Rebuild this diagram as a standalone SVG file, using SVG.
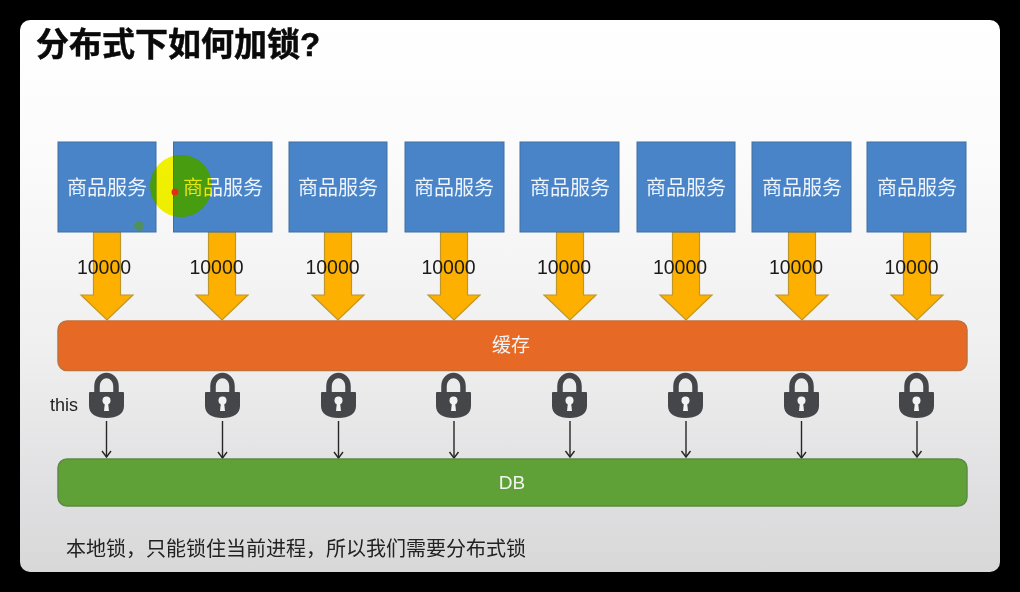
<svg xmlns="http://www.w3.org/2000/svg" width="1020" height="592" viewBox="0 0 1020 592">
<style>
.t{font-family:"Liberation Sans","Noto Sans CJK SC",sans-serif}
.svc{fill:#4a84c8;stroke:#3f6f9f;stroke-width:1}
.svct{font-size:20px;fill:#eef4fb;text-anchor:middle}
.num{font-size:19.500px;fill:#1a1a1a;text-anchor:middle}
.block{font-size:19px;fill:#f3f3f3;text-anchor:middle}
.fat{fill:#fdb000;stroke:#bf9628;stroke-width:1.200}
.thin{stroke:#262626;stroke-width:1.400;fill:none}
.hl{mix-blend-mode:multiply}
.hl2{mix-blend-mode:lighten}
</style>
<defs>
<linearGradient id="bg" x1="0" y1="0" x2="0" y2="1">
<stop offset="0" stop-color="#ffffff"/><stop offset="0.25" stop-color="#fbfbfb"/><stop offset="0.6" stop-color="#efefef"/><stop offset="0.85" stop-color="#e0e0e2"/><stop offset="1" stop-color="#d8d8d8"/>
</linearGradient>
<clipPath id="onbox"><rect x="58" y="142" width="98" height="90"/><rect x="173.500" y="142" width="98.500" height="90"/></clipPath>
<marker id="open" markerWidth="12" markerHeight="12" refX="9" refY="6" orient="auto" markerUnits="userSpaceOnUse" viewBox="0 0 12 12"><path d="M3 1.500 L9 6 L3 10.500" class="thin"/></marker>
<symbol id="lock" width="36" height="46" viewBox="0 0 36 46" overflow="visible">
<path d="M8 21 V13 A9.500 10.500 0 0 1 27 13 V21" fill="none" stroke="#444649" stroke-width="5.500"/>
<path d="M1 19 H34 Q35 19 35 20 V33 C35 41 28 45 17.500 45 C7 45 0 41 0 33 V20 Q0 19 1 19 Z" fill="#444649"/>
<circle cx="17.500" cy="27.500" r="4" fill="#f2f2f2"/><path d="M16 29 H19 L20 38 H15 Z" fill="#f2f2f2"/>
</symbol>
<path id="fat" class="fat" d="M-13.500 0 H13.500 V63 H26 L0 88 L-26 63 H-13.500 Z"/>
</defs>
<rect width="1020" height="592" fill="#000"/>
<rect x="20" y="20" width="980" height="552" rx="10" fill="url(#bg)"/>
<text class="t" x="36" y="56" font-size="33" font-weight="700" stroke="#0a0a0a" stroke-width="0.500" fill="#0a0a0a">分布式下如何加锁?</text>

<g id="connectors">
<use href="#fat" x="107" y="232"/><use href="#fat" x="222" y="232"/><use href="#fat" x="338" y="232"/><use href="#fat" x="454" y="232"/><use href="#fat" x="570" y="232"/><use href="#fat" x="686" y="232"/><use href="#fat" x="802" y="232"/><use href="#fat" x="917" y="232"/>
<path class="thin" marker-end="url(#open)" d="M106.500 421 V457"/><path class="thin" marker-end="url(#open)" d="M222.500 421 V458"/><path class="thin" marker-end="url(#open)" d="M338.500 421 V458"/><path class="thin" marker-end="url(#open)" d="M454 421 V458"/><path class="thin" marker-end="url(#open)" d="M570 421 V457"/><path class="thin" marker-end="url(#open)" d="M686 421 V457"/><path class="thin" marker-end="url(#open)" d="M801.500 421 V458"/><path class="thin" marker-end="url(#open)" d="M917 421 V457"/>
</g>

<g id="svc1"><rect class="svc" x="58" y="142" width="98" height="90"/><text class="t svct" x="107" y="195">商品服务</text></g>
<g id="svc2"><rect class="svc" x="173.500" y="142" width="98.500" height="90"/><text class="t svct" x="223" y="195">商品服务</text></g>
<g id="svc3"><rect class="svc" x="289" y="142" width="98" height="90"/><text class="t svct" x="338" y="195">商品服务</text></g>
<g id="svc4"><rect class="svc" x="405" y="142" width="99" height="90"/><text class="t svct" x="454" y="195">商品服务</text></g>
<g id="svc5"><rect class="svc" x="520" y="142" width="99" height="90"/><text class="t svct" x="570" y="195">商品服务</text></g>
<g id="svc6"><rect class="svc" x="637" y="142" width="98" height="90"/><text class="t svct" x="686" y="195">商品服务</text></g>
<g id="svc7"><rect class="svc" x="752" y="142" width="99" height="90"/><text class="t svct" x="802" y="195">商品服务</text></g>
<g id="svc8"><rect class="svc" x="867" y="142" width="99" height="90"/><text class="t svct" x="917" y="195">商品服务</text></g>

<g id="labels">
<text class="t num" x="104" y="274">10000</text><text class="t num" x="216.500" y="274">10000</text><text class="t num" x="332.500" y="274">10000</text><text class="t num" x="448.500" y="274">10000</text><text class="t num" x="564" y="274">10000</text><text class="t num" x="680" y="274">10000</text><text class="t num" x="796" y="274">10000</text><text class="t num" x="911.500" y="274">10000</text>
<text class="t" x="50" y="411" font-size="18" fill="#1f1f1f">this</text>
</g>

<g id="cache"><rect x="58" y="321" width="909" height="49.500" rx="9" fill="#e66a25" stroke="#c2703a" stroke-width="1.500"/><text class="t block" x="511" y="352">缓存</text></g>
<g id="db"><rect x="58" y="459" width="909" height="47" rx="9" fill="#5fa136" stroke="#5c8a45" stroke-width="1.500"/><text class="t block" x="512" y="489">DB</text></g>

<g id="locks">
<use href="#lock" x="89" y="373"/><use href="#lock" x="205" y="373"/><use href="#lock" x="321" y="373"/><use href="#lock" x="436" y="373"/><use href="#lock" x="552" y="373"/><use href="#lock" x="668" y="373"/><use href="#lock" x="784" y="373"/><use href="#lock" x="899" y="373"/>
</g>

<text class="t" x="66" y="556" font-size="20" fill="#222">本地锁&#xFF0C;只能锁住当前进程&#xFF0C;所以我们需要分布式锁</text>

<circle class="hl" cx="181" cy="186" r="31" fill="#f5f500"/>
<circle class="hl2" cx="181" cy="186" r="31" fill="#449c10" clip-path="url(#onbox)"/>
<circle cx="175" cy="192" r="3.500" fill="#e0301a"/>
<circle cx="139" cy="226" r="5" fill="#4f9060"/>
</svg>
